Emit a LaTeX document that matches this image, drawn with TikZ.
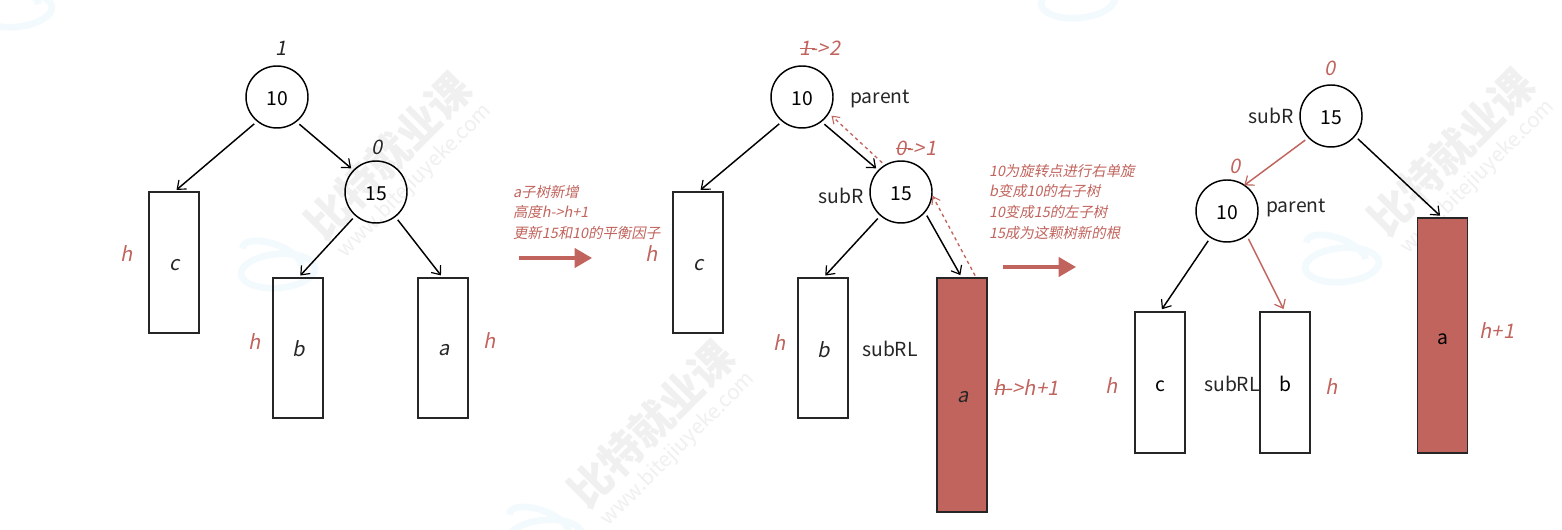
\documentclass[tikz,border=0pt]{standalone}
\usepackage{fontspec}
\setmainfont{Noto Sans CJK SC}
\newfontfamily\slfont[FakeSlant=0.2]{Noto Sans CJK SC}
\usetikzlibrary{arrows.meta}
\definecolor{rd}{HTML}{C1645D}
\definecolor{wm}{HTML}{F0F0F0}
\definecolor{wr}{HTML}{F3FAFD}
\newcommand\strk[1]{\rlap{\rule[0.3em]{0.75em}{0.6pt}}#1}
\tikzset{
  every node/.style={inner sep=0pt,outer sep=0pt},
  circ/.style={draw=black,line width=1.1pt,circle,minimum size=46.5pt,font=\fontsize{14.5}{16}\selectfont,text height=12.8pt,text depth=0pt},
  box/.style={draw=black!85,line width=1.1pt,minimum width=37.5pt,font=\fontsize{14.5}{16}\selectfont,text height=12.8pt,text depth=0pt},
  redbox/.style={box,fill=rd},
  lab/.style={font=\fontsize{14.5}{16}\selectfont,text=black!85},
  ital/.style={font=\fontsize{15}{16}\slfont,text=black!85},
  redital/.style={font=\fontsize{15}{16}\slfont,text=rd},
  note/.style={font=\fontsize{10.8}{15.5}\slfont,text=rd,align=left,anchor=north west},
  arr/.style={-{Straight Barb[length=5.5pt,width=9pt,line width=.9pt]},line width=1.1pt,shorten <=3.2pt,shorten >=2.5pt},
  redarr/.style={arr,draw=rd},
  dasharr/.style={-{Straight Barb[length=5pt,width=7pt,line width=.8pt]},draw=rd,line width=1pt,dash pattern=on 2.5pt off 2.5pt},
  bigarr/.style={-{Triangle[length=13pt,width=14.5pt]},draw=rd,line width=2.3pt},
  wmt/.style={font=\fontsize{32}{36}\selectfont\bfseries,text=wm,rotate=45},
  wmu/.style={font=\fontsize{15.5}{16}\selectfont,text=wm,rotate=45},
  ring/.style={draw=wr,line width=5pt},
}
\begin{document}
\begin{tikzpicture}[x=0.75pt,y=-0.75pt]
\path[use as bounding box,fill=white] (0,0) rectangle (1562,530);
% watermark
\foreach \x/\y in {388/156,651/424,1451/152}{
  \node[wmt] at (\x,\y) {比特就业课};
  \node[wmu] at (\x+27,\y+25) {www.bitejiuyeke.com};
}
\foreach \x/\y in {278/271,1342/265,545/537,1078/1,15/10}{
  \draw[ring,shift={(\x,\y)},rotate=5] (0,0) ellipse [x radius=37,y radius=17];
  \draw[ring,shift={(\x-6,\y-14)},rotate=-20] (170:31 and 13) arc [start angle=170,end angle=350,x radius=31,y radius=13];
}
% left tree
\node[circ] (a10) at (277,97) {10};
\node[circ] (a15) at (376,192) {15};
\node[box,minimum height=105.75pt] (ac) at (174,262.5) {};
\node[box,minimum height=105pt] (ab) at (298,348) {};
\node[box,minimum height=105pt] (aa) at (443,348) {};
\node[ital] (t1) at (281,48) {1};
\node[ital] (t2) at (377,147) {0};
\node[ital] (t3) at (175,265) {c};
\node[ital] (t4) at (299,349) {b};
\node[ital] (t5) at (444,350) {a};
\node[redital] (t6) at (127,254) {h};
\node[redital] (t7) at (255,342) {h};
\node[redital] (t8) at (490,341) {h};
\draw[arr] (a10.-129) -- (ac.north);
\draw[arr] (a10.-52) -- (a15.136);
\draw[arr] (a15.-131) -- (ab.north);
\draw[arr] (a15.-52) -- (aa.north);
% first note
\node[note] (n1) at (513,185) {a子树新增\\高度h->h+1\\更新15和10的平衡因子};
\coordinate (p1) at (519,258);
\coordinate (p2) at (592,258);
\draw[bigarr] (p1) -- (p2);
% middle tree
\node[circ] (b10) at (802,97) {10};
\node[circ] (b15) at (901,192) {15};
\node[box,minimum height=105.75pt] (bc) at (698,262.5) {};
\node[box,minimum height=105pt] (bb) at (823,348) {};
\node[redbox,minimum height=175.5pt] (ba) at (962,395) {};
\node[redital] (u1) at (820,48) {\strk{1}->2};
\node[redital] (u2) at (916,148) {\strk{0}->1};
\node[lab] (u3) at (880,99) {parent};
\node[lab] (u4) at (841,196) {subR};
\node[lab] (u5) at (890,349) {subRL};
\node[ital] (u6) at (699,265) {c};
\node[ital] (u7) at (824,350) {b};
\node[ital] (u8) at (963,397) {a};
\node[redital] (u9) at (652,254) {h};
\node[redital] (u10) at (780,343) {h};
\node[redital] (u11) at (1026,388) {\strk{h}->h+1};
\draw[arr] (b10.-129) -- (bc.north);
\draw[arr] (b10.-52) -- (b15.136);
\draw[arr] (b15.-131) -- (bb.north);
\draw[arr] (b15.-40) -- (ba.north);
\draw[dasharr,shorten <=3pt,shorten >=3pt] (b15.121) -- (b10.-31);
\draw[dasharr,shorten <=2pt,shorten >=1pt] (ba.83) -- (b15.-5);
% second note
\node[note] (n2) at (989,164) {10为旋转点进行右单旋\\b变成10的右子树\\10变成15的左子树\\15成为这颗树新的根};
\coordinate (p3) at (1003,267);
\coordinate (p4) at (1076,267);
\draw[bigarr] (p3) -- (p4);
% right tree
\node[circ] (c15) at (1331,116) {15};
\node[circ] (c10) at (1227,211) {10};
\node[box,minimum height=105.75pt] (cc) at (1160,382.5) {c};
\node[box,minimum height=105.75pt] (cb) at (1285,382.5) {b};
\node[redbox,minimum height=176.25pt] (ca) at (1442.5,335.5) {a};
\node[redital] (v1) at (1330,68) {0};
\node[redital] (v2) at (1235,166) {0};
\node[lab] (v3) at (1271,116) {subR};
\node[lab] (v4) at (1296,208) {parent};
\node[lab] (v5) at (1232,384) {subRL};
\node[redital] (v6) at (1112,386) {h};
\node[redital] (v7) at (1332,387) {h};
\node[redital] (v8) at (1497,331) {h+1};
\draw[redarr,shorten >=0pt] (c15.-136) -- (c10.56);
\draw[arr] (c15.-40) -- (ca.north);
\draw[arr] (c10.-122) -- (cc.north);
\draw[redarr] (c10.-51) -- (cb.north);
\end{tikzpicture}
\end{document}
